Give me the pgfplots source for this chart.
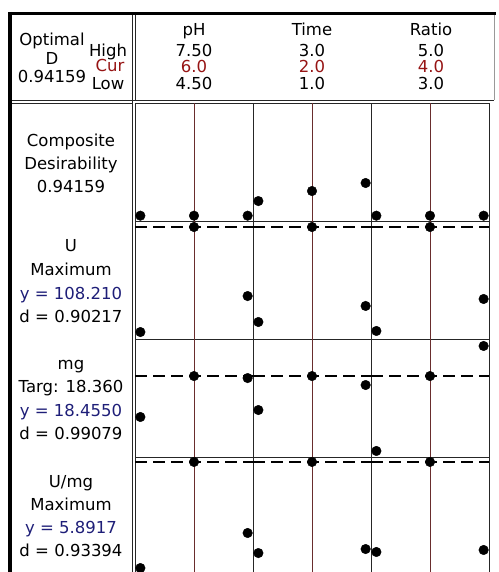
\documentclass[border=0pt]{standalone}
\usepackage{fontspec}
\setmainfont{DejaVu Sans}
\usepackage{pgfplots}
\pgfplotsset{compat=1.18}

\definecolor{curred}{RGB}{150,20,20}
\definecolor{curline}{RGB}{105,45,45}
\definecolor{yblue}{RGB}{30,30,120}

\pgfplotsset{
  panel/.style={scale only axis, width=118pt, height=118pt,
    ymin=0, ymax=1, xtick=\empty, ytick=\empty,
    axis line style={line width=0.9pt, black!85}, clip=false},
  dots/.style={only marks, mark=*, mark size=4.8pt, black},
}

% #1,#2 lower left corner; #3,#4 x range; #5 current setting; #6 points
\newcommand{\panel}[6]{%
  \begin{axis}[panel, at={(#1,#2)}, anchor=south west, xmin=#3, xmax=#4]
    \addplot[curline, line width=0.9pt] coordinates {(#5,0) (#5,1)};
    \addplot[dots] coordinates {#6};
  \end{axis}}
% same, with the dashed line of the current response at height #7
\newcommand{\dpanel}[7]{%
  \begin{axis}[panel, at={(#1,#2)}, anchor=south west, xmin=#3, xmax=#4]
    \addplot[curline, line width=0.9pt] coordinates {(#5,0) (#5,1)};
    \addplot[black, line width=1.6pt, dash pattern=on 12pt off 6pt] coordinates {(#3,#7) (#4,#7)};
    \addplot[dots] coordinates {#6};
  \end{axis}}

\begin{document}
\begin{tikzpicture}[x=1pt, y=1pt, font=\fontsize{16.5}{22}\selectfont,
  every node/.style={inner sep=0pt, anchor=base}]
\useasboundingbox (0,0) rectangle (498,572);
\clip (0,0) rectangle (498,572);

% frame and header boxes
\draw[line width=3.5pt] (8,558.5) -- (496,558.5);
\draw[line width=4pt] (10,560) -- (10,-5);
\draw[line width=0.9pt, black!85] (132,557) -- (132,-5);
\draw[line width=0.9pt, black!85] (135,557) -- (135,472);
\draw[line width=0.9pt, black!85] (12,472) -- (494,472);
\draw[line width=0.9pt, black!85] (12,469) -- (132,469);
\draw[line width=0.6pt, black!40] (494,557) -- (494,472);

% header text
\node at (52,526) {Optimal};
\node at (52,507) {D};
\node at (52,489) {0.94159};
\node at (108,515) {High};
\node[text=curred] at (110,500) {Cur};
\node at (108,482) {Low};

\node at (194,536) {pH};
\node at (194,515) {7.50};
\node[text=curred] at (194,499.5) {6.0};
\node at (194,482.5) {4.50};
\node at (312,536) {Time};
\node at (312,515) {3.0};
\node[text=curred] at (312,499.5) {2.0};
\node at (312,482.5) {1.0};
\node at (431,536) {Ratio};
\node at (431,515) {5.0};
\node[text=curred] at (431,499.5) {4.0};
\node at (431,482.5) {3.0};

% row labels
\node at (71,425) {Composite};
\node at (71,402) {Desirability};
\node at (71,379) {0.94159};

\node at (71,320) {U};
\node at (71,296) {Maximum};
\node[text=yblue] at (71,272) {y = 108.210};
\node at (71,249) {d = 0.90217};

\node at (71,202) {mg};
\node at (71,179) {Targ: 18.360};
\node[text=yblue] at (71,155) {y = 18.4550};
\node at (71,132) {d = 0.99079};

\node at (71,84) {U/mg};
\node at (71,61) {Maximum};
\node[text=yblue] at (71,38) {y = 5.8917};
\node at (71,15) {d = 0.93394};

% Composite desirability
\panel{135pt}{351pt}{4.35}{7.65}{6.0}{(4.5,0.045) (6.0,0.045) (7.5,0.045)}
\panel{253pt}{351pt}{0.9}{3.1}{2.0}{(1,0.169) (2,0.254) (3,0.322)}
\panel{371pt}{351pt}{2.9}{5.1}{4.0}{(3,0.045) (4,0.045) (5,0.045)}
% U
\dpanel{135pt}{233pt}{4.35}{7.65}{6.0}{(4.5,0.059) (6.0,0.949) (7.5,0.364)}{0.949}
\dpanel{253pt}{233pt}{0.9}{3.1}{2.0}{(1,0.144) (2,0.949) (3,0.280)}{0.949}
\dpanel{371pt}{233pt}{2.9}{5.1}{4.0}{(3,0.068) (4,0.949) (5,0.339)}{0.949}
% mg
\dpanel{135pt}{115pt}{4.35}{7.65}{6.0}{(4.5,0.339) (6.0,0.686) (7.5,0.669)}{0.686}
\dpanel{253pt}{115pt}{0.9}{3.1}{2.0}{(1,0.398) (2,0.686) (3,0.610)}{0.686}
\dpanel{371pt}{115pt}{2.9}{5.1}{4.0}{(3,0.051) (4,0.686) (5,0.941)}{0.686}
% U/mg
\dpanel{135pt}{-3pt}{4.35}{7.65}{6.0}{(4.5,0.059) (6.0,0.958) (7.5,0.356)}{0.958}
\dpanel{253pt}{-3pt}{0.9}{3.1}{2.0}{(1,0.186) (2,0.958) (3,0.220)}{0.958}
\dpanel{371pt}{-3pt}{2.9}{5.1}{4.0}{(3,0.195) (4,0.958) (5,0.212)}{0.958}
\end{tikzpicture}
\end{document}
